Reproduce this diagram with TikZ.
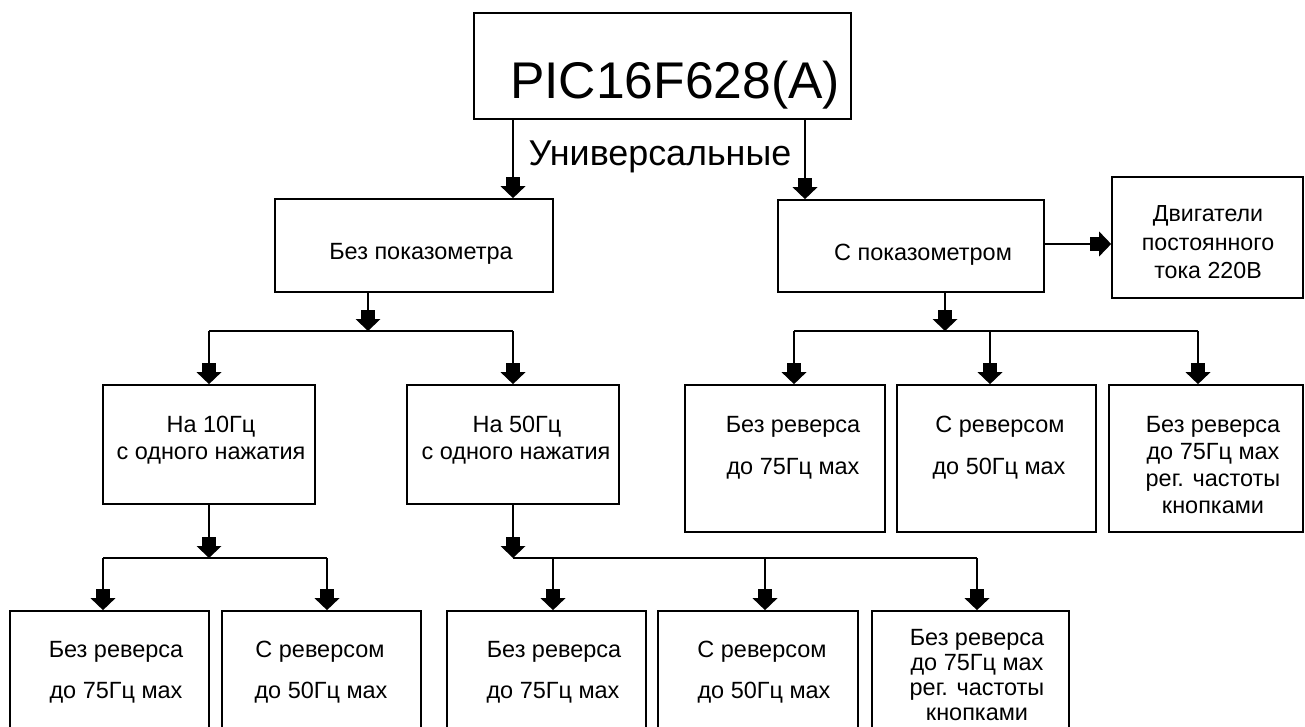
\documentclass[tikz,border=0pt]{standalone}
\usepackage{fontspec}
\setmainfont{Liberation Sans}
\usetikzlibrary{arrows.meta,fit}
\begin{document}
\begin{tikzpicture}[x=0.75pt,y=-0.75pt,
  box/.style={draw,line width=1.3pt,inner sep=0pt},
  conn/.style={line width=1.2pt},
  arr/.style={conn,-{Rectangle[length=6.5pt,width=10pt,sep=0pt]Triangle[length=9pt,width=18.5pt,sep=0pt]}},
  bigtxt/.style={font=\fontsize{38.7}{46}\selectfont,inner sep=0pt,anchor=base},
  midtxt/.style={font=\fontsize{26.9}{32}\selectfont,inner sep=0pt,anchor=base},
  txt/.style={font=\fontsize{17.6}{20}\selectfont,inner sep=0pt,anchor=base},
  stxt/.style={font=\fontsize{17.4}{20}\selectfont,inner sep=0pt,anchor=base}]
\useasboundingbox (0,0) rectangle (1305,727);
\clip (0,0) rectangle (1305,727);
\fill[white] (0,0) rectangle (1305,727);

% top
\node[box, fit={(474,13)(851,119)}] (pic) {};
\node[bigtxt] (tpic) at (675,99) {PIC16F628(A)};
\node[midtxt] (tuni) at (660,166) {Универсальные};

\node[box, fit={(275,199)(553,292)}] (bp) {};
\node[txt] (tbp) at (421,259) {Без показометра};
\node[box, fit={(778,200)(1044,292)}] (sp) {};
\node[txt] (tsp) at (923,260) {С показометром};
\node[box, fit={(1112,177)(1303,298)}] (dv) {};
\node[stxt] (tdv1) at (1208,222) {Двигатели};
\node[stxt] (tdv2) at (1208,250) {постоянного};
\node[stxt] (tdv3) at (1208,278) {тока 220В};

\coordinate (cu1) at (513,0);
\coordinate (cu2) at (805,0);
\coordinate (ydv) at (0,244);
\draw[arr] (pic.south -| cu1) -- (bp.north -| cu1);
\draw[arr] (pic.south -| cu2) -- (sp.north -| cu2);
\draw[arr] (sp.east |- ydv) -- (dv.west |- ydv);

% left middle
\node[box, fit={(103,385)(315,504)}] (n10) {};
\node[txt] (tn10a) at (211,432) {На 10Гц};
\node[txt] (tn10b) at (211,459) {с одного нажатия};
\node[box, fit={(407,385)(619,504)}] (n50) {};
\node[txt] (tn50a) at (517,432) {На 50Гц};
\node[txt] (tn50b) at (516,459) {с одного нажатия};
\coordinate (j1) at (368,331);
\draw[arr] (bp.south -| j1) -- (j1);
\draw[conn] (n10.north |- j1) -- (n50.north |- j1);
\draw[arr] (n10.north |- j1) -- (n10.north);
\draw[arr] (n50.north |- j1) -- (n50.north);

% right middle
\node[box, fit={(685,385)(885,532)}] (r1) {};
\node[txt] (tr1a) at (793,432) {Без реверса};
\node[txt] (tr1b) at (793,474) {до 75Гц мах};
\node[box, fit={(897,385)(1096,532)}] (r2) {};
\node[txt] (tr2a) at (1000,432) {С реверсом};
\node[txt] (tr2b) at (999,474) {до 50Гц мах};
\node[box, fit={(1109,385)(1303,532)}] (r3) {};
\node[txt] (tr3a) at (1213,432) {Без реверса};
\node[txt] (tr3b) at (1213,459) {до 75Гц мах};
\node[txt] (tr3c) at (1213,486) {рег. частоты};
\node[txt] (tr3d) at (1213,513) {кнопками};
\coordinate (j4) at (945,331);
\coordinate (k6) at (794,331);
\coordinate (k7) at (990,331);
\coordinate (k8) at (1198,331);
\draw[arr] (sp.south -| j4) -- (j4);
\draw[conn] (k6) -- (k8);
\draw[arr] (k6) -- (r1.north -| k6);
\draw[arr] (k7) -- (r2.north -| k7);
\draw[arr] (k8) -- (r3.north -| k8);

% bottom
\node[box, fit={(10,611)(209,745)}] (b1) {};
\node[txt] (tb1a) at (116,657) {Без реверса};
\node[txt] (tb1b) at (116,698) {до 75Гц мах};
\node[box, fit={(222,611)(421,745)}] (b2) {};
\node[txt] (tb2a) at (320,657) {С реверсом};
\node[txt] (tb2b) at (321,698) {до 50Гц мах};
\node[box, fit={(447,611)(646,745)}] (b3) {};
\node[txt] (tb3a) at (554,657) {Без реверса};
\node[txt] (tb3b) at (553,698) {до 75Гц мах};
\node[box, fit={(658,611)(858,745)}] (b4) {};
\node[txt] (tb4a) at (762,657) {С реверсом};
\node[txt] (tb4b) at (764,698) {до 50Гц мах};
\node[box, fit={(872,611)(1069,745)}] (b5) {};
\node[txt] (tb5a) at (977,645) {Без реверса};
\node[txt] (tb5b) at (977,670) {до 75Гц мах};
\node[txt] (tb5c) at (977,695) {рег. частоты};
\node[txt] (tb5d) at (977,720) {кнопками};

\coordinate (j2) at (209,558);
\coordinate (k1) at (103,558);
\coordinate (k2) at (327,558);
\draw[arr] (n10.south) -- (n10.south |- j2);
\draw[conn] (k1) -- (k2);
\draw[arr] (k1) -- (b1.north -| k1);
\draw[arr] (k2) -- (b2.north -| k2);

\coordinate (j3) at (513,558);
\coordinate (k3) at (553,558);
\coordinate (k4) at (765,558);
\coordinate (k5) at (977,558);
\draw[arr] (n50.south) -- (n50.south |- j3);
\draw[conn] (j3) -- (k5);
\draw[arr] (k3) -- (b3.north -| k3);
\draw[arr] (k4) -- (b4.north -| k4);
\draw[arr] (k5) -- (b5.north -| k5);
\end{tikzpicture}
\end{document}
